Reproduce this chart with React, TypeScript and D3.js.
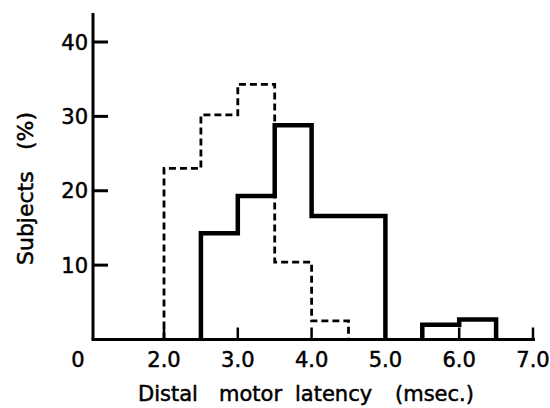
import React from "react";
import * as d3 from "d3";

const binStarts = [2.0, 2.5, 3.0, 3.5, 4.0, 4.5, 5.0, 5.5, 6.0];
const binWidth = 0.5;
const dashedValues = [23, 30.2, 34.3, 10.4, 2.5, 0, 0, 0, 0];
const solidValues = [0, 14.3, 19.3, 28.8, 16.6, 16.6, 0, 2.0, 2.7];
const xTicks = [2, 3, 4, 5, 6, 7];
const yTicks = [10, 20, 30, 40];
const xTitleWords = ["Distal", "motor", "latency", "(msec.)"];
const yTitleWords = ["Subjects", "(%)"];

const W = 550;
const H = 408;
const x = d3.scaleLinear().domain([2, 7]).range([164, 533]);
const y = d3.scaleLinear().domain([0, 40]).range([339.5, 42]);

function runs(values: number[]): [number, number][][] {
  const out: [number, number][][] = [];
  let cur: [number, number][] | null = null;
  values.forEach((v, i) => {
    const s = binStarts[i];
    const e = s + binWidth;
    if (v > 0) {
      if (!cur) {
        cur = [[s, 0]];
        out.push(cur);
      }
      cur.push([s, v]);
      cur.push([e, v]);
    } else if (cur) {
      cur.push([s, 0]);
      cur = null;
    }
  });
  if (cur) {
    const c = cur as [number, number][];
    c.push([c[c.length - 1][0], 0]);
  }
  return out;
}

const line = d3
  .line<[number, number]>()
  .x((d) => x(d[0]))
  .y((d) => y(d[1]));

const font = "'DejaVu Sans', sans-serif";
const txt = { fontFamily: font, fill: "#000", stroke: "#000", strokeWidth: 0.5 };

// starting positions (px) of words in the axis titles
const xWordPos = [138, 219, 295, 395];
const yWordPos = [265, 150];

export default function App() {
  const dashedRuns = runs(dashedValues);
  const solidRuns = runs(solidValues);
  const x0 = 93;
  const x1 = 535;
  return (
    <svg width={W} height={H} style={{ position: "absolute", left: 0, top: 0, background: "#fff" }}>
      <rect width={W} height={H} fill="#fff" />
      <line x1={x0} y1={13} x2={x0} y2={y(0)} stroke="#000" strokeWidth={3} />
      <line x1={x0 - 1.5} y1={y(0)} x2={x1} y2={y(0)} stroke="#000" strokeWidth={3} />
      {yTicks.map((t) => (
        <g key={t}>
          <line x1={x0} x2={x0 + 15} y1={y(t)} y2={y(t)} stroke="#000" strokeWidth={3} />
          <text x={88} y={y(t)} dy="0.36em" textAnchor="end" fontSize={21} {...txt}>
            {t}
          </text>
        </g>
      ))}
      <text x={78} y={367} textAnchor="middle" fontSize={21} {...txt}>
        0
      </text>
      {xTicks.map((t) => (
        <g key={t}>
          <line x1={x(t)} x2={x(t)} y1={y(0)} y2={y(0) - 12} stroke="#000" strokeWidth={2.5} />
          <text x={x(t)} y={367} textAnchor="middle" fontSize={21} {...txt}>
            {t.toFixed(1)}
          </text>
        </g>
      ))}
      {dashedRuns.map((r, i) => (
        <path
          key={"d" + i}
          d={line(r) || ""}
          fill="none"
          stroke="#000"
          strokeWidth={2.8}
          strokeDasharray="7,4"
        />
      ))}
      {solidRuns.map((r, i) => (
        <path key={"s" + i} d={line(r) || ""} fill="none" stroke="#000" strokeWidth={4.5} />
      ))}
      {yTitleWords.map((w, i) => (
        <text
          key={w}
          transform={`translate(33,${yWordPos[i]}) rotate(-90)`}
          textAnchor="start"
          fontSize={22}
          {...txt}
        >
          {w}
        </text>
      ))}
      {xTitleWords.map((w, i) => (
        <text key={w} x={xWordPos[i]} y={401} textAnchor="start" fontSize={21} {...txt}>
          {w}
        </text>
      ))}
    </svg>
  );
}
